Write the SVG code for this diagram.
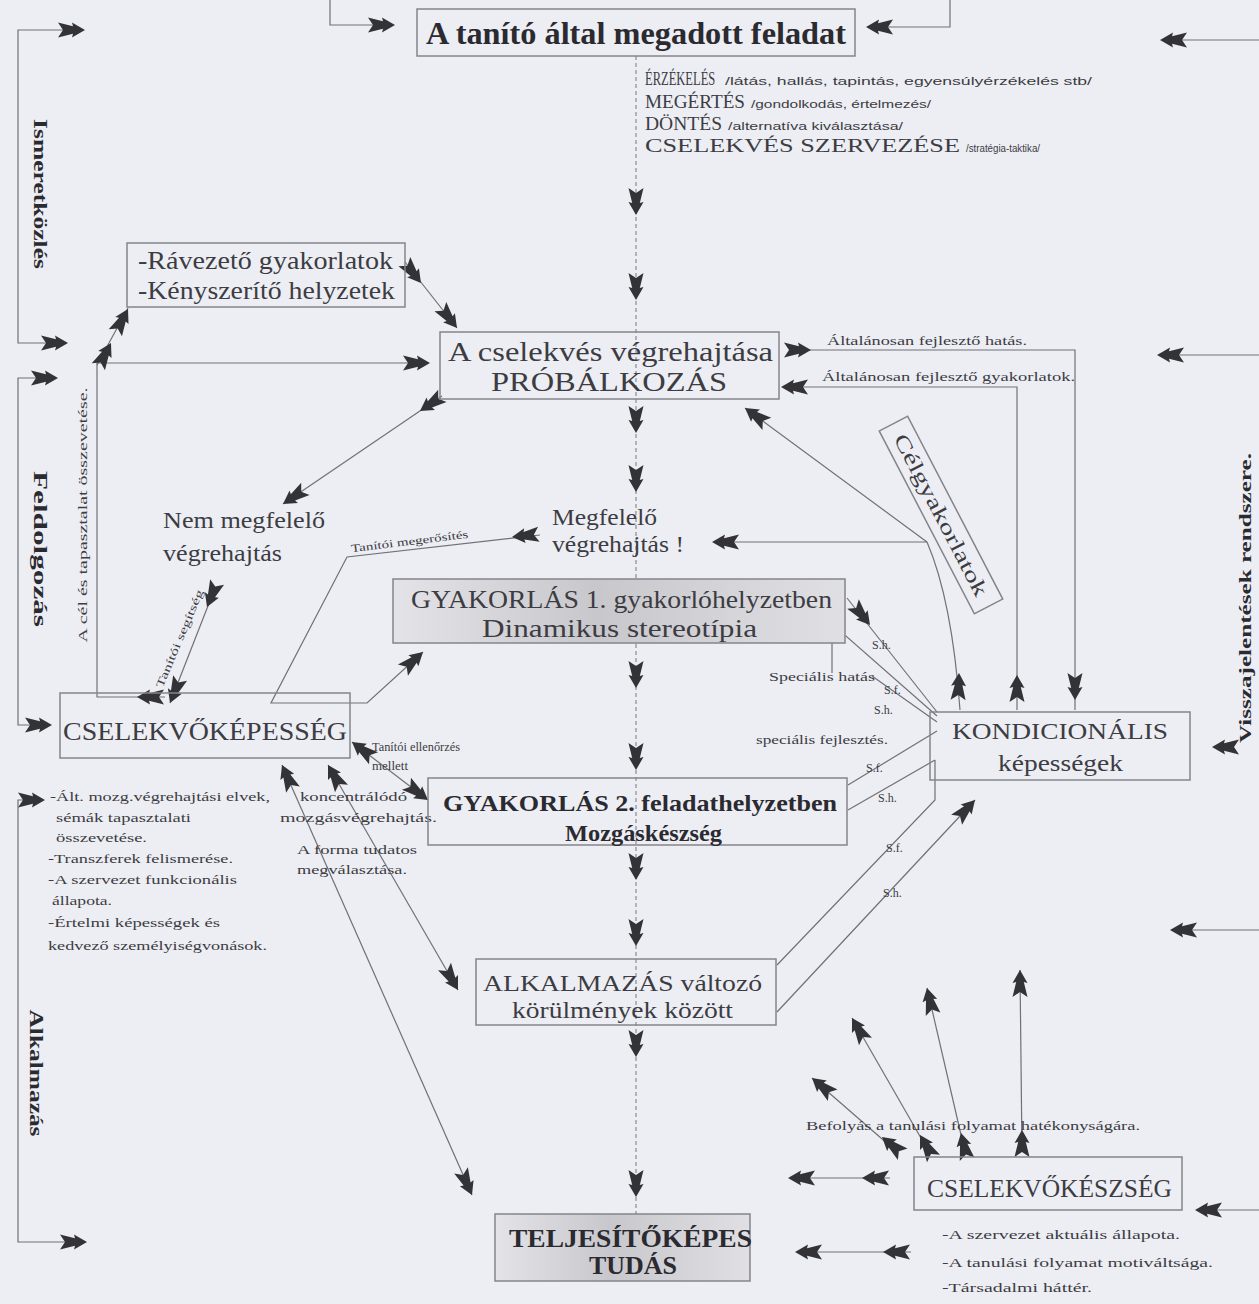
<svg xmlns="http://www.w3.org/2000/svg" width="1259" height="1304" viewBox="0 0 1259 1304">
<defs>
<style>
.ln{fill:none;stroke:#707076;stroke-width:1.2}
.dl{fill:none;stroke:#8a8a90;stroke-width:1.2;stroke-dasharray:4 3}
.bx{fill:none;stroke:#84848a;stroke-width:1.5}
.s{font-family:"Liberation Serif","Times New Roman",serif;fill:#3c3c42}
.sb{font-family:"Liberation Serif","Times New Roman",serif;font-weight:bold;fill:#2a2a30}
.ss{font-family:"Liberation Sans",Arial,sans-serif;fill:#3c3c42}
</style>
<path id="ah" fill="#333337" d="M0,0 L-13,-7.5 L-12,-3.8 L-27,-7.5 L-22,0 L-27,7.5 L-12,3.8 L-13,7.5 Z"/>
<linearGradient id="gr" x1="0" y1="0" x2="1" y2="0">
<stop offset="0" stop-color="#e4e4e8"/>
<stop offset="0.45" stop-color="#c8c8cc"/>
<stop offset="1" stop-color="#e0e0e4"/>
</linearGradient>
</defs>
<rect width="1259" height="1304" fill="#edeef4"/>

<g id="connectors">
<path class="dl" d="M636,56 V1214"/>
<use href="#ah" transform="translate(636,215) rotate(90)"/>
<use href="#ah" transform="translate(636,300) rotate(90)"/>
<use href="#ah" transform="translate(636,433) rotate(90)"/>
<use href="#ah" transform="translate(636,492) rotate(90)"/>
<use href="#ah" transform="translate(636,688) rotate(90)"/>
<use href="#ah" transform="translate(636,770) rotate(90)"/>
<use href="#ah" transform="translate(636,880) rotate(90)"/>
<use href="#ah" transform="translate(636,946) rotate(90)"/>
<use href="#ah" transform="translate(636,1057) rotate(90)"/>
<use href="#ah" transform="translate(636,1197) rotate(90)"/>

<path class="ln" d="M330,0 V25 H375"/>
<use href="#ah" transform="translate(395,25)"/>
<path class="ln" d="M950,0 V27 H885"/>
<use href="#ah" transform="translate(866,27) rotate(180)"/>

<path class="ln" d="M65,30 H18 V343 H50"/>
<use href="#ah" transform="translate(85,30)"/>
<use href="#ah" transform="translate(68,343)"/>
<path class="ln" d="M40,378 H18 V725 H35"/>
<use href="#ah" transform="translate(58,378)"/>
<use href="#ah" transform="translate(52,725)"/>
<path class="ln" d="M25,800 H18 V1242 H70"/>
<use href="#ah" transform="translate(45,800)"/>
<use href="#ah" transform="translate(87,1242)"/>

<path class="ln" d="M1259,40 H1180"/>
<use href="#ah" transform="translate(1160,40) rotate(180)"/>
<path class="ln" d="M1259,355 H1177"/>
<use href="#ah" transform="translate(1157,355) rotate(180)"/>
<use href="#ah" transform="translate(1212,747) rotate(180)"/>
<path class="ln" d="M1259,930 H1190"/>
<use href="#ah" transform="translate(1170,930) rotate(180)"/>
<path class="ln" d="M1259,1210 H1215"/>
<use href="#ah" transform="translate(1195,1210) rotate(180)"/>

<path class="ln" d="M405,262 L457,328"/>
<use href="#ah" transform="translate(421,283) rotate(52)"/>
<use href="#ah" transform="translate(457,328) rotate(52)"/>

<path class="ln" d="M165,697 H97 V363 H415"/>
<use href="#ah" transform="translate(137,697) rotate(180)"/>
<use href="#ah" transform="translate(430,363)"/>
<path class="ln" d="M97,365 L128,308"/>
<use href="#ah" transform="translate(111,343) rotate(-62)"/>
<use href="#ah" transform="translate(128,309) rotate(-62)"/>

<path class="ln" d="M442,396 L283,504"/>
<use href="#ah" transform="translate(420,411) rotate(146)"/>
<use href="#ah" transform="translate(283,504) rotate(146)"/>

<path class="ln" d="M215,588 L170,703"/>
<use href="#ah" transform="translate(207,607) rotate(112)"/>
<use href="#ah" transform="translate(170,703) rotate(112)"/>

<path class="ln" d="M540,535 L347,557 L271,703 H367 L423,652"/>
<use href="#ah" transform="translate(512,537) rotate(174)"/>
<use href="#ah" transform="translate(423,652) rotate(-42)"/>

<path class="ln" d="M352,742 L428,800"/>
<use href="#ah" transform="translate(352,742) rotate(217)"/>
<use href="#ah" transform="translate(428,800) rotate(37)"/>

<path class="ln" d="M282,765 L472,1195"/>
<use href="#ah" transform="translate(282,765) rotate(246)"/>
<use href="#ah" transform="translate(472,1195) rotate(66)"/>
<path class="ln" d="M328,765 L458,990"/>
<use href="#ah" transform="translate(328,765) rotate(240)"/>
<use href="#ah" transform="translate(458,990) rotate(60)"/>

<path class="ln" d="M790,350 H1075 V710"/>
<use href="#ah" transform="translate(811,350)"/>
<use href="#ah" transform="translate(1075,700) rotate(90)"/>
<path class="ln" d="M790,387 H1017 V710"/>
<use href="#ah" transform="translate(781,387) rotate(180)"/>
<use href="#ah" transform="translate(1017,675) rotate(-90)"/>

<path class="ln" d="M745,408 L927,542 M927,542 H725 M927,542 Q952,600 960,710"/>
<use href="#ah" transform="translate(745,408) rotate(216)"/>
<use href="#ah" transform="translate(712,542) rotate(180)"/>
<use href="#ah" transform="translate(959,673) rotate(-88)"/>

<path class="ln" d="M847,598 L937,712"/>
<use href="#ah" transform="translate(870,625) rotate(51)"/>
<path class="ln" d="M832,673 V636 H846 L937,716"/>
<path class="ln" d="M872,676 L937,722"/>
<path class="ln" d="M848,785 L937,731"/>
<path class="ln" d="M848,810 L935,760"/>
<path class="ln" d="M777,965 L935,800 V760"/>
<path class="ln" d="M777,1012 L975,800"/>
<use href="#ah" transform="translate(975,800) rotate(-47)"/>

<path class="ln" d="M897,1152 L812,1078"/>
<use href="#ah" transform="translate(812,1078) rotate(-140)"/>
<use href="#ah" transform="translate(882,1137) rotate(-140)"/>
<path class="ln" d="M929,1152 L852,1018"/>
<use href="#ah" transform="translate(852,1018) rotate(-120)"/>
<use href="#ah" transform="translate(920,1135) rotate(-120)"/>
<path class="ln" d="M965,1152 L927,988"/>
<use href="#ah" transform="translate(927,988) rotate(-103)"/>
<use href="#ah" transform="translate(961,1133) rotate(-103)"/>
<path class="ln" d="M1022,1152 L1020,970"/>
<use href="#ah" transform="translate(1020,970) rotate(-90)"/>
<use href="#ah" transform="translate(1022,1130) rotate(-90)"/>

<path class="ln" d="M890,1178 H800"/>
<use href="#ah" transform="translate(788,1178) rotate(180)"/>
<use href="#ah" transform="translate(862,1178) rotate(180)"/>
<path class="ln" d="M911,1252 H805"/>
<use href="#ah" transform="translate(795,1252) rotate(180)"/>
<use href="#ah" transform="translate(883,1252) rotate(180)"/>
</g>

<g id="feladat">
<rect class="bx" x="417" y="9" width="438" height="47"/>
<text class="sb" x="426" y="44" font-size="31" textLength="420" lengthAdjust="spacingAndGlyphs">A tanító által megadott feladat</text>
</g>

<g id="lepesek">
<text class="s" font-size="19" transform="translate(645,85) scale(0.66,1)">ÉRZÉKELÉS</text>
<text class="ss" x="725" y="85" font-size="10" textLength="367" lengthAdjust="spacingAndGlyphs">/látás, hallás, tapintás, egyensúlyérzékelés stb/</text>
<text class="s" x="645" y="108" font-size="19" textLength="100" lengthAdjust="spacingAndGlyphs">MEGÉRTÉS</text>
<text class="ss" x="751" y="108" font-size="10" textLength="180" lengthAdjust="spacingAndGlyphs">/gondolkodás, értelmezés/</text>
<text class="s" x="645" y="130" font-size="19" textLength="77" lengthAdjust="spacingAndGlyphs">DÖNTÉS</text>
<text class="ss" x="728" y="130" font-size="10" textLength="175" lengthAdjust="spacingAndGlyphs">/alternatíva kiválasztása/</text>
<text class="s" x="645" y="152" font-size="19" textLength="315" lengthAdjust="spacingAndGlyphs">CSELEKVÉS SZERVEZÉSE</text>
<text class="ss" x="966" y="152" font-size="10" textLength="74" lengthAdjust="spacingAndGlyphs">/stratégia-taktika/</text>
</g>

<g id="ravezeto">
<rect class="bx" x="127" y="243" width="278" height="64"/>
<text class="s" x="138" y="269" font-size="25" textLength="255" lengthAdjust="spacingAndGlyphs">-Rávezető gyakorlatok</text>
<text class="s" x="138" y="299" font-size="25" textLength="257" lengthAdjust="spacingAndGlyphs">-Kényszerítő helyzetek</text>
</g>

<g id="probalkozas">
<rect class="bx" x="440" y="332" width="339" height="67"/>
<text class="s" x="448" y="361" font-size="27" textLength="325" lengthAdjust="spacingAndGlyphs">A cselekvés végrehajtása</text>
<text class="s" x="491" y="391" font-size="27" textLength="236" lengthAdjust="spacingAndGlyphs">PRÓBÁLKOZÁS</text>
</g>

<g id="altalanos">
<text class="s" x="827" y="345" font-size="12" textLength="200" lengthAdjust="spacingAndGlyphs">Általánosan fejlesztő hatás.</text>
<text class="s" x="822" y="381" font-size="12" textLength="253" lengthAdjust="spacingAndGlyphs">Általánosan fejlesztő gyakorlatok.</text>
</g>

<g id="nem-megfelelo">
<text class="s" x="163" y="528" font-size="24" textLength="162" lengthAdjust="spacingAndGlyphs">Nem megfelelő</text>
<text class="s" x="163" y="561" font-size="24" textLength="119" lengthAdjust="spacingAndGlyphs">végrehajtás</text>
</g>

<g id="megfelelo">
<text class="s" x="552" y="525" font-size="24" textLength="105" lengthAdjust="spacingAndGlyphs">Megfelelő</text>
<text class="s" x="552" y="552" font-size="24" textLength="132" lengthAdjust="spacingAndGlyphs">végrehajtás !</text>
</g>

<g id="celgyakorlatok" transform="translate(941,515) rotate(62.5)">
<rect class="bx" x="-103" y="-16" width="206" height="32"/>
<text class="s" x="0" y="7" font-size="21" text-anchor="middle" textLength="180" lengthAdjust="spacingAndGlyphs">Célgyakorlatok</text>
</g>

<g id="gyakorlas1">
<rect x="393" y="579" width="452" height="64" fill="url(#gr)" stroke="#84848a" stroke-width="1.5"/>
<text class="s" x="411" y="608" font-size="25" textLength="421" lengthAdjust="spacingAndGlyphs">GYAKORLÁS 1. gyakorlóhelyzetben</text>
<text class="s" x="482" y="637" font-size="25" textLength="275" lengthAdjust="spacingAndGlyphs">Dinamikus stereotípia</text>
</g>

<g id="cselekvokepesseg">
<rect class="bx" x="60" y="693" width="290" height="65"/>
<text class="s" x="63" y="740" font-size="26" textLength="284" lengthAdjust="spacingAndGlyphs">CSELEKVŐKÉPESSÉG</text>
</g>

<g id="cselekvokepesseg-lista">
<text class="s" x="50" y="801" font-size="12.5" textLength="220" lengthAdjust="spacingAndGlyphs">-Ált. mozg.végrehajtási elvek,</text>
<text class="s" x="56" y="822" font-size="12.5" textLength="135" lengthAdjust="spacingAndGlyphs">sémák tapasztalati</text>
<text class="s" x="56" y="842" font-size="12.5" textLength="91" lengthAdjust="spacingAndGlyphs">összevetése.</text>
<text class="s" x="48" y="863" font-size="12.5" textLength="185" lengthAdjust="spacingAndGlyphs">-Transzferek felismerése.</text>
<text class="s" x="48" y="884" font-size="12.5" textLength="189" lengthAdjust="spacingAndGlyphs">-A szervezet funkcionális</text>
<text class="s" x="52" y="905" font-size="12.5" textLength="60" lengthAdjust="spacingAndGlyphs">állapota.</text>
<text class="s" x="48" y="927" font-size="12.5" textLength="172" lengthAdjust="spacingAndGlyphs">-Értelmi képességek és</text>
<text class="s" x="48" y="950" font-size="12.5" textLength="219" lengthAdjust="spacingAndGlyphs">kedvező személyiségvonások.</text>
</g>

<g id="kozepso-cimkek">
<text class="s" x="372" y="751" font-size="12" textLength="88" lengthAdjust="spacingAndGlyphs">Tanítói ellenőrzés</text>
<text class="s" x="372" y="770" font-size="12" textLength="36" lengthAdjust="spacingAndGlyphs">mellett</text>
<text class="s" x="300" y="801" font-size="13.5" textLength="107" lengthAdjust="spacingAndGlyphs">koncentrálódó</text>
<text class="s" x="280" y="822" font-size="13.5" textLength="157" lengthAdjust="spacingAndGlyphs">mozgásvégrehajtás.</text>
<text class="s" x="297" y="854" font-size="12.5" textLength="120" lengthAdjust="spacingAndGlyphs">A forma tudatos</text>
<text class="s" x="297" y="874" font-size="12.5" textLength="110" lengthAdjust="spacingAndGlyphs">megválasztása.</text>
<text class="s" font-size="11" text-anchor="middle" textLength="118" lengthAdjust="spacingAndGlyphs" transform="translate(410,545) rotate(-7)">Tanítói megerősítés</text>
<text class="s" font-size="11" text-anchor="middle" textLength="105" lengthAdjust="spacingAndGlyphs" transform="translate(183,640) rotate(-67)">Tanítói segítség</text>
<text class="s" font-size="11.5" text-anchor="middle" textLength="255" lengthAdjust="spacingAndGlyphs" transform="translate(87,515) rotate(-90)">A cél és tapasztalat összevetése.</text>
</g>

<g id="specialis-cimkek">
<text class="s" x="872" y="649" font-size="12">S.h.</text>
<text class="s" x="769" y="681" font-size="12" textLength="106" lengthAdjust="spacingAndGlyphs">Speciális hatás</text>
<text class="s" x="884" y="694" font-size="12">S.f.</text>
<text class="s" x="874" y="714" font-size="12">S.h.</text>
<text class="s" x="756" y="744" font-size="12" textLength="132" lengthAdjust="spacingAndGlyphs">speciális fejlesztés.</text>
<text class="s" x="866" y="772" font-size="12">S.f.</text>
<text class="s" x="878" y="802" font-size="12">S.h.</text>
<text class="s" x="886" y="852" font-size="12">S.f.</text>
<text class="s" x="883" y="897" font-size="12">S.h.</text>
</g>

<g id="kondicionalis">
<rect class="bx" x="930" y="712" width="260" height="68"/>
<text class="s" x="952" y="739" font-size="24" textLength="216" lengthAdjust="spacingAndGlyphs">KONDICIONÁLIS</text>
<text class="s" x="998" y="771" font-size="24" textLength="125" lengthAdjust="spacingAndGlyphs">képességek</text>
</g>

<g id="gyakorlas2">
<rect class="bx" x="428" y="778" width="419" height="67"/>
<text class="sb" x="443" y="811" font-size="24" textLength="394" lengthAdjust="spacingAndGlyphs">GYAKORLÁS 2. feladathelyzetben</text>
<text class="sb" x="565" y="841" font-size="24" textLength="157" lengthAdjust="spacingAndGlyphs">Mozgáskészség</text>
</g>

<g id="alkalmazas">
<rect class="bx" x="476" y="959" width="300" height="66"/>
<text class="s" x="483" y="991" font-size="24" textLength="279" lengthAdjust="spacingAndGlyphs">ALKALMAZÁS változó</text>
<text class="s" x="512" y="1018" font-size="24" textLength="221" lengthAdjust="spacingAndGlyphs">körülmények között</text>
</g>

<g id="befolyas">
<text class="s" x="806" y="1130" font-size="12" textLength="334" lengthAdjust="spacingAndGlyphs">Befolyás a tanulási folyamat hatékonyságára.</text>
</g>

<g id="cselekvokeszseg">
<rect class="bx" x="914" y="1157" width="268" height="53"/>
<text class="s" x="927" y="1197" font-size="25" textLength="245" lengthAdjust="spacingAndGlyphs">CSELEKVŐKÉSZSÉG</text>
<text class="s" x="942" y="1239" font-size="13" textLength="238" lengthAdjust="spacingAndGlyphs">-A szervezet aktuális állapota.</text>
<text class="s" x="942" y="1267" font-size="13" textLength="271" lengthAdjust="spacingAndGlyphs">-A tanulási folyamat motiváltsága.</text>
<text class="s" x="942" y="1292" font-size="13" textLength="150" lengthAdjust="spacingAndGlyphs">-Társadalmi háttér.</text>
</g>

<g id="teljesitokepes">
<rect x="495" y="1214" width="255" height="67" fill="url(#gr)" stroke="#84848a" stroke-width="1.5"/>
<text class="sb" x="509" y="1247" font-size="25" textLength="243" lengthAdjust="spacingAndGlyphs">TELJESÍTŐKÉPES</text>
<text class="sb" x="589" y="1274" font-size="25" textLength="88" lengthAdjust="spacingAndGlyphs">TUDÁS</text>
</g>

<g id="oldalcimkek">
<text class="sb" font-size="18" text-anchor="middle" textLength="150" lengthAdjust="spacingAndGlyphs" transform="translate(34,194) rotate(90)">Ismeretközlés</text>
<text class="sb" font-size="18" text-anchor="middle" textLength="156" lengthAdjust="spacingAndGlyphs" transform="translate(34,549) rotate(90)">Feldolgozás</text>
<text class="sb" font-size="18" text-anchor="middle" textLength="127" lengthAdjust="spacingAndGlyphs" transform="translate(30,1073) rotate(90)">Alkalmazás</text>
<text class="sb" font-size="17" text-anchor="middle" textLength="290" lengthAdjust="spacingAndGlyphs" transform="translate(1251,598) rotate(-90)">Visszajelentések rendszere.</text>
</g>
</svg>
